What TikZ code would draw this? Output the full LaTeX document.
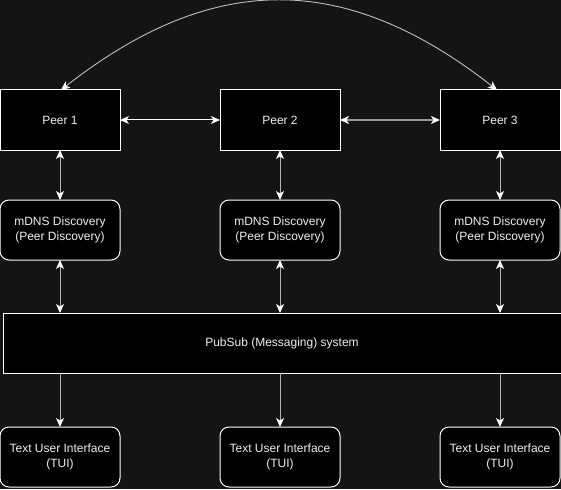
\documentclass[tikz,border=0pt]{standalone}
\usepackage{fontspec}
\setmainfont{Liberation Sans}
\usetikzlibrary{positioning}
\usetikzlibrary{arrows.meta}
\definecolor{canvas}{HTML}{141414}
\definecolor{wire}{HTML}{B4B4B4}
\definecolor{thickwire}{HTML}{9A9A9A}
\def\myhdist{100pt}
\def\myvdist{50pt}
\tikzset{
>={Stealth[length=9pt,width=8pt,inset=2.5pt,color=white]}, % all tips white
my node/.style={minimum height=60pt,minimum width=120pt,inner sep=0pt,outer sep=0pt,
  align=center,text=white!94!black,font=\fontsize{12}{15}\selectfont},
peer/.style={draw=white,fill=black,line width=1pt,my node},
module/.style={peer,rounded corners=9pt},
bus/.style={peer,minimum width=558pt},
link/.style={<->,draw=wire,line width=1pt},
feed/.style={->,draw=wire,line width=1pt},
overlink/.style={<->,draw=wire!85!white,line width=0.9pt}
}
\begin{document}
\begin{tikzpicture}[x=1pt,y=1pt]
\useasboundingbox (0,0) rectangle (561,-489);
\fill[canvas] (0,0) rectangle (561,-489);

\node[peer] (p1) at (60,-120) {Peer 1};
\node[peer,right=\myhdist of p1] (p2) {Peer 2};
\node[peer,right=\myhdist of p2] (p3) {Peer 3};

\node[module,below=\myvdist of p1] (d1) {mDNS Discovery\\(Peer Discovery)};
\node[module,below=\myvdist of p2] (d2) {mDNS Discovery\\(Peer Discovery)};
\node[module,below=\myvdist of p3] (d3) {mDNS Discovery\\(Peer Discovery)};

\node[bus,below=53pt of d2,xshift=2pt] (ps) {PubSub (Messaging) system};

\node[module,below=54pt of ps,xshift=-2pt] (t2) {Text User Interface\\(TUI)};
\node[module,left=\myhdist of t2] (t1) {Text User Interface\\(TUI)};
\node[module,right=\myhdist of t2] (t3) {Text User Interface\\(TUI)};

\draw[link,draw=white] (p1) -- (p2);
\draw[link,draw=thickwire,line width=2pt] (p2) -- (p3);
\draw[overlink] ([xshift=1pt]p1.north) .. controls +(152,119) and +(-152,119) .. ([xshift=-3pt]p3.north);

\foreach \i in {1,2,3} {
  \draw[link] (p\i) -- (d\i);
  \draw[link] (d\i) -- (d\i |- ps.north);
  \draw[feed] (t\i |- ps.south) -- (t\i);
}
\end{tikzpicture}
\end{document}
